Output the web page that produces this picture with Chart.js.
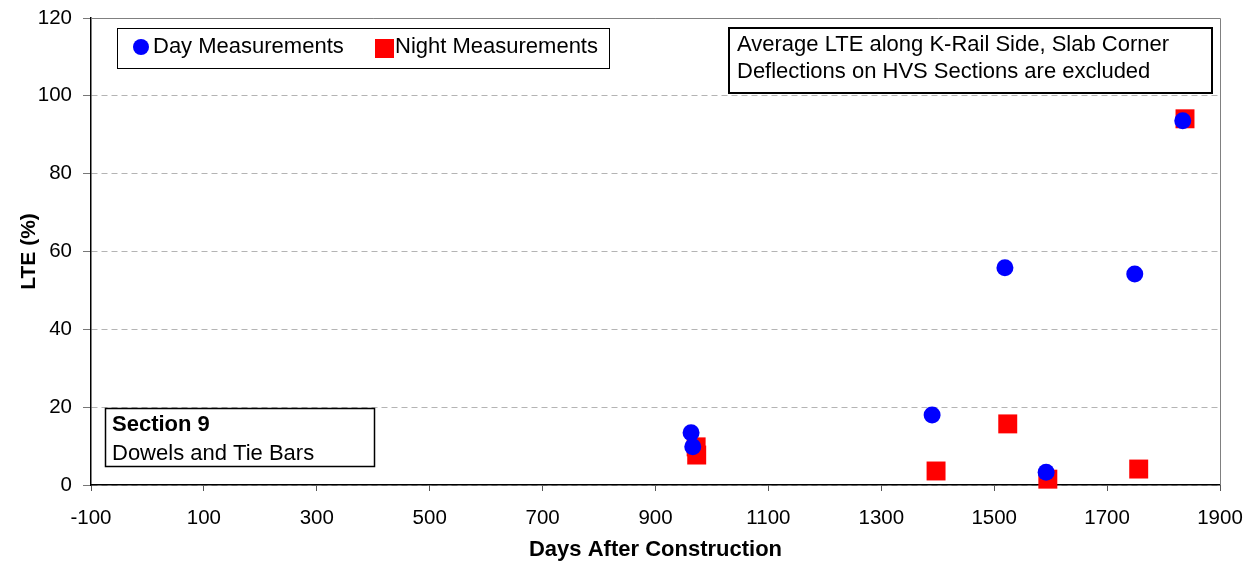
<!DOCTYPE html>
<html>
<head>
<meta charset="utf-8">
<script src="https://cdn.jsdelivr.net/npm/chart.js@4"></script>
<style>
  body { margin: 0; background: #fff; }
  canvas { display: block; }
</style>
</head>
<body>
<canvas id="chart" width="1257" height="564"></canvas>
<script>
// values
const dayDays = [963, 966, 1390, 1519, 1592, 1749, 1834];
const dayLte = [13.4, 9.8, 18.0, 55.8, 3.3, 54.2, 93.6];
const nightDays = [972, 973, 1397, 1524, 1595, 1756, 1838];
const nightLte = [9.8, 7.7, 3.6, 15.7, 1.5, 4.1, 94.1];
const xTicks = [-100, 100, 300, 500, 700, 900, 1100, 1300, 1500, 1700, 1900];
const yTicks = [0, 20, 40, 60, 80, 100, 120];

const FONT = 'Liberation Sans, Arial, sans-serif';

function toPoints(xs, ys) {
    return xs.map((x, i) => ({x: x, y: ys[i]}));
}

// boxes drawn over the plot: legend, note and section label
const boxesPlugin = {
    id: 'boxes',
    afterDraw(chart) {
        const ctx = chart.ctx;
        const a = chart.chartArea;
        ctx.save();

        // top and right frame
        ctx.strokeStyle = '#808080';
        ctx.lineWidth = 1;
        ctx.beginPath();
        ctx.moveTo(a.left, a.top + 0.5);
        ctx.lineTo(a.right + 0.5, a.top + 0.5);
        ctx.lineTo(a.right + 0.5, a.bottom);
        ctx.stroke();

        // legend
        ctx.fillStyle = '#fff';
        ctx.fillRect(117, 28, 492, 40);
        ctx.strokeStyle = '#000';
        ctx.lineWidth = 1;
        ctx.strokeRect(117.5, 28.5, 492, 40);
        ctx.fillStyle = '#0000ff';
        ctx.beginPath();
        ctx.arc(141, 47, 8, 0, Math.PI * 2);
        ctx.fill();
        ctx.fillStyle = '#ff0000';
        ctx.fillRect(375, 39, 19, 19);
        ctx.fillStyle = '#000';
        ctx.font = '22px ' + FONT;
        ctx.textBaseline = 'middle';
        ctx.textAlign = 'left';
        ctx.fillText('Day Measurements', 153, 47);
        ctx.fillText('Night Measurements', 395, 47);

        // note, top right
        ctx.fillStyle = '#fff';
        ctx.fillRect(728, 27, 484, 66);
        ctx.strokeStyle = '#000';
        ctx.lineWidth = 2;
        ctx.strokeRect(729, 28, 483, 65);
        ctx.fillStyle = '#000';
        ctx.fillText('Average LTE along K-Rail Side, Slab Corner', 737, 45);
        ctx.fillText('Deflections on HVS Sections are excluded', 737, 72);

        // section label
        ctx.fillStyle = '#fff';
        ctx.fillRect(105, 408, 269, 58);
        ctx.lineWidth = 1.5;
        ctx.strokeRect(105.5, 408.5, 269, 58);
        ctx.fillStyle = '#000';
        ctx.font = 'bold 22px ' + FONT;
        ctx.fillText('Section 9', 112, 425);
        ctx.font = '22px ' + FONT;
        ctx.fillText('Dowels and Tie Bars', 112, 454);

        ctx.restore();
    }
};

new Chart(document.getElementById('chart'), {
    type: 'scatter',
    data: {
        datasets: [
            {
                label: 'Day Measurements',
                data: toPoints(dayDays, dayLte),
                pointStyle: 'circle',
                pointRadius: 8.5,
                pointBackgroundColor: '#0000ff',
                pointBorderWidth: 0,
                clip: false
            },
            {
                label: 'Night Measurements',
                data: toPoints(nightDays, nightLte),
                pointStyle: 'rect',
                pointRadius: 13.4,
                pointBackgroundColor: '#ff0000',
                pointBorderWidth: 0,
                clip: false
            }
        ]
    },
    options: {
        responsive: false,
        animation: false,
        layout: {padding: {top: 18, right: 37, left: 0, bottom: 0}},
        plugins: {
            legend: {display: false},
            tooltip: {enabled: false}
        },
        scales: {
            x: {
                type: 'linear',
                min: -100,
                max: 1900,
                afterBuildTicks: function(scale) {
                    scale.ticks = xTicks.map(v => ({value: v}));
                },
                afterFit: function(scale) {
                    scale.height = 79;
                    scale.paddingLeft = 0;
                    scale.paddingRight = 0;
                },
                grid: {
                    drawOnChartArea: false,
                    drawTicks: true,
                    tickLength: 6,
                    tickColor: '#555'
                },
                border: {display: true, color: '#000', width: 1.5},
                ticks: {
                    color: '#000',
                    padding: 15,
                    maxRotation: 0,
                    autoSkip: false,
                    callback: v => String(v),
                    font: {family: FONT, size: 20.5}
                },
                title: {
                    display: true,
                    text: 'Days After Construction',
                    color: '#000',
                    padding: {top: 0, bottom: 1},
                    font: {family: FONT, size: 22, weight: 'bold'}
                }
            },
            y: {
                min: 0,
                max: 120,
                afterBuildTicks: function(scale) {
                    scale.ticks = yTicks.map(v => ({value: v}));
                },
                afterFit: function(scale) {
                    scale.width = 91;
                    scale.paddingTop = 0;
                    scale.paddingBottom = 0;
                },
                grid: {
                    color: '#b4b4b4',
                    lineWidth: 1,
                    drawTicks: true,
                    tickLength: 8,
                    tickColor: '#777',
                    tickBorderDash: []
                },
                border: {display: true, color: '#000', width: 1.5, dash: [6, 4]},
                ticks: {
                    color: '#000',
                    padding: 11,
                    callback: v => String(v),
                    font: {family: FONT, size: 20.5}
                },
                title: {
                    display: true,
                    text: 'LTE (%)',
                    color: '#000',
                    padding: {top: 17, bottom: 0},
                    font: {family: FONT, size: 21, weight: 'bold'}
                }
            }
        }
    },
    plugins: [boxesPlugin]
});
</script>
</body>
</html>
